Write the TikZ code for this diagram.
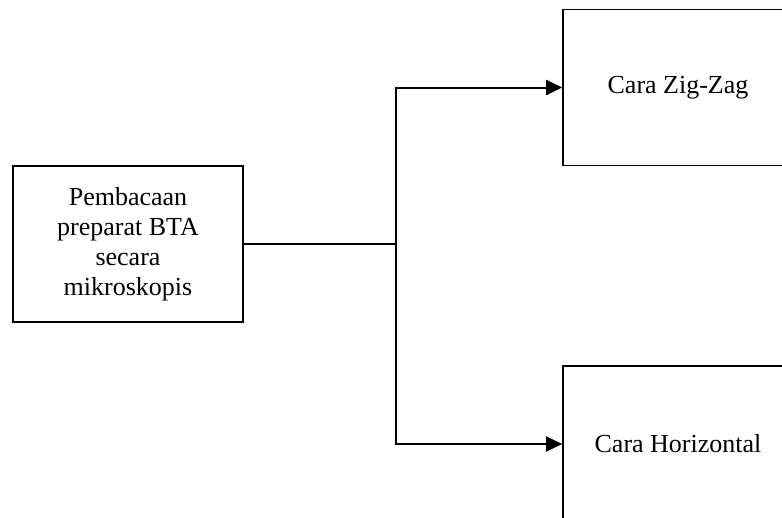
\documentclass[tikz,border=0pt]{standalone}
\usepackage{fontspec}
\setmainfont{Liberation Serif}
\usetikzlibrary{arrows.meta}
\begin{document}
\begin{tikzpicture}[x=1pt,y=-1pt,
  boxstyle/.style={draw=black, line width=1.6pt, rectangle, minimum width=230pt, minimum height=156pt, inner sep=0pt, font=\fontsize{26}{30}\selectfont, align=center},
  conn/.style={line width=2pt},
  arr/.style={conn, -{Triangle[length=16pt,width=15pt]}}]
\useasboundingbox (0,0) rectangle (782,517);
\clip (0,0) rectangle (782,517);
\node[boxstyle] (L) at (128,244) {Pembacaan\\preparat BTA\\secara\\mikroskopis};
\node[boxstyle] (Z) at (678,87.5) {Cara Zig-Zag};
\node[boxstyle] (H) at (678,444) {Cara Horizontal};
\coordinate (j) at (396,244);
\draw[conn] (L.east) -- (j);
\draw[arr] (j) |- (Z.west);
\draw[arr] (j) |- (H.west);
\end{tikzpicture}
\end{document}
